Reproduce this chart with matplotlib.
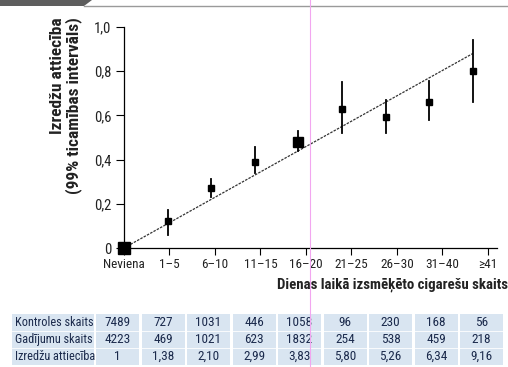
import numpy as np
import matplotlib
matplotlib.use("Agg")
import matplotlib.pyplot as plt
from matplotlib.patches import Rectangle, Polygon
from matplotlib.lines import Line2D

# condensed font like the printed figure (first installed one wins)
plt.rcParams['font.family'] = ['Roboto Condensed', 'Archivo Narrow', 'PT Sans Narrow',
                               'Liberation Sans', 'DejaVu Sans']

# categories (cigarettes per day)
categories = ['Neviena', '1–5', '6–10', '11–15', '16–20', '21–25', '26–30', '31–40', '≥41']
# estimated points and 99% intervals
est = [0.0, 0.12, 0.27, 0.39, 0.48, 0.63, 0.595, 0.66, 0.80]
ci_low = [0.0, 0.06, 0.23, 0.34, 0.44, 0.52, 0.52, 0.58, 0.66]
ci_high = [0.0, 0.17, 0.31, 0.455, 0.53, 0.75, 0.67, 0.755, 0.94]
# trend line end values
trend_y = [0.0, 0.88]

# table rows
row_labels = ['Kontroles skaits', 'Gadījumu skaits', 'Izredžu attiecība']
controls = ['7489', '727', '1031', '446', '1058', '96', '230', '168', '56']
cases = ['4223', '469', '1021', '623', '1832', '254', '538', '459', '218']
odds = ['1', '1,38', '2,10', '2,99', '3,83', '5,80', '5,26', '6,34', '9,16']

y_ticks = [0, 0.2, 0.4, 0.6, 0.8, 1.0]
y_tick_labels = ['0', '0,2', '0,4', '0,6', '0,8', '1,0']

W, H = 508, 367
fig = plt.figure(figsize=(W / 100, H / 100), dpi=100)

# ---- main plot ----
ax = fig.add_axes([124 / W, 1 - 248 / H, 373 / W, 221 / H])
x = np.arange(len(categories))
ax.set_xlim(0, 373 / 43.6)
ax.set_ylim(0, 1.0)

ax.plot([x[0], x[-1]], trend_y, color='#333333', lw=0.9, ls=(0, (2, 1)), zorder=2)

sizes = [9, 4.5, 4.5, 4.5, 6.5, 4.5, 4.5, 4.5, 4.5]
for i in range(1, len(categories)):
    ax.plot([x[i], x[i]], [ci_low[i], ci_high[i]], color='black', lw=1.3, zorder=3)
for i in range(len(categories)):
    ax.plot(x[i], est[i], marker='s', ms=sizes[i], color='black', ls='none',
            clip_on=False, zorder=4)

tick_pos = x * 1.043
ax.set_xticks(tick_pos)
ax.set_xticklabels(categories, fontsize=9.5, color='#222222')
ax.set_yticks(y_ticks)
ax.set_yticklabels(y_tick_labels, fontsize=10.5, color='#222222')
ax.tick_params(axis='x', length=5, width=0.8, pad=2, direction='out')
ax.tick_params(axis='y', length=6, width=0.8, pad=3, direction='out')
for s in ['top', 'right']:
    ax.spines[s].set_visible(False)
ax.spines['left'].set_linewidth(0.9)
ax.spines['bottom'].set_linewidth(0.9)
ax.set_facecolor('none')

fig.text(66 / W, 1 - 17 / H, 'Izredžu attiecība\n(99% ticamības intervāls)',
         rotation=90, ha='center', va='top', ma='right', fontsize=12.5,
         fontweight='bold', linespacing=1.0, color='#222222')
fig.text(277 / W, 1 - 285 / H, 'Dienas laikā izsmēķēto cigarešu skaits',
         ha='left', va='center', fontsize=10.7, fontweight='bold', color='#222222')

# ---- table ----
tab = fig.add_axes([0, 0, 1, 1], zorder=-1)
tab.set_xlim(0, W)
tab.set_ylim(H, 0)
tab.axis('off')

rows = [controls, cases, odds]
row_top = 314
row_h = 17
col_w = 45.5
label_left, label_right = 12, 96
n_rows = len(rows)
# column blocks, separated by narrow white gaps
tab.add_patch(Rectangle((label_left, row_top), label_right - label_left - 2.5,
                        row_h * n_rows, facecolor='#d9e5f1', edgecolor='none'))
for c in range(len(controls)):
    cx = label_right + c * col_w
    tab.add_patch(Rectangle((cx, row_top), col_w - 2.5, row_h * n_rows,
                            facecolor='#d9e5f1', edgecolor='none'))
for r in range(1, n_rows):
    tab.add_line(Line2D([label_left, W], [row_top + r * row_h] * 2,
                        color='white', lw=0.6))
for r, vals in enumerate(rows):
    yc = row_top + r * row_h + row_h / 2
    tab.text(label_left + 3, yc, row_labels[r], ha='left', va='center',
             fontsize=8.8, color='#1b2a4c')
    for c, v in enumerate(vals):
        cx = label_right + c * col_w
        tab.text(cx + (col_w - 2.5) / 2, yc, v, ha='center', va='center',
                 fontsize=9.5, color='#1b2a4c')

# header remains at the very top
tab.add_patch(Polygon([[0, 0], [92, 0], [84, 6], [0, 6]], closed=True,
                      facecolor='#5e5e5e', edgecolor='none'))
tab.add_line(Line2D([84, W], [5.5, 5.5], color='#9a9a9a', lw=1.0))

# thin magenta guide line over everything
fig.add_artist(Line2D([310 / W, 310 / W], [0, 1], color='#f2a6f0', lw=0.8,
                      transform=fig.transFigure, zorder=10))

fig.savefig('out.png', dpi=100)
